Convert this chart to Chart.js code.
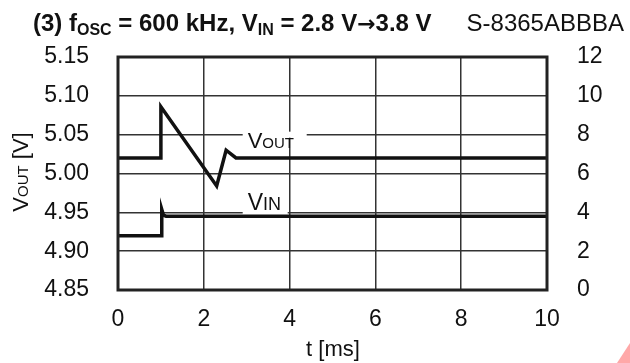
<!DOCTYPE html>
<html>
<head>
<meta charset="utf-8">
<script src="https://cdn.jsdelivr.net/npm/chart.js@4"></script>
<style>
  html, body { margin: 0; padding: 0; background: #fff; }
  #wrap { width: 630px; height: 363px; position: relative; }
</style>
</head>
<body>
<div id="wrap"><canvas id="chart" width="630" height="363"></canvas></div>
<script>
// values
const voutTimes = [0, 1.0, 1.0, 2.3, 2.52, 2.75, 10];
const voutValues = [5.02, 5.02, 5.086, 4.984, 5.03, 5.02, 5.02];
const vinTimes = [0, 1.02, 1.02, 1.06, 1.12, 10];
const vinValues = [2.8, 2.8, 4.15, 3.85, 3.8, 3.8];

const timeTicks = [0, 2, 4, 6, 8, 10];
const voutTicks = [4.85, 4.90, 4.95, 5.00, 5.05, 5.10, 5.15];
const vinTicks = [0, 2, 4, 6, 8, 10, 12];

const FONT = "'Liberation Sans', Arial, sans-serif";
const INK = '#111';

function toPoints(xs, ys) {
  return xs.map((t, i) => ({ x: t, y: ys[i] }));
}

// draws a run of text pieces with different sizes (for subscripts / small caps)
function drawRich(ctx, parts, x, y, align) {
  const fontOf = (p) => `${p.bold ? 'bold ' : ''}${p.size}px ${p.family || FONT}`;
  let total = 0;
  parts.forEach((p) => {
    ctx.font = fontOf(p);
    p.w = ctx.measureText(p.t).width;
    total += p.w;
  });
  let cx = align === 'center' ? x - total / 2 : align === 'right' ? x - total : x;
  parts.forEach((p) => {
    ctx.font = fontOf(p);
    ctx.fillText(p.t, cx, y + (p.dy || 0));
    cx += p.w;
  });
  return total;
}

const decor = {
  id: 'decor',
  beforeDatasetsDraw(chart) {
    const { ctx, scales } = chart;
    ctx.save();
    ctx.fillStyle = '#fff';
    // white gaps in the grid behind the trace labels
    const lx = scales.x.getPixelForValue(3) - 4;
    ctx.fillRect(lx, scales.y.getPixelForValue(5.05) - 3, 64, 6);
    ctx.fillRect(lx, scales.y1.getPixelForValue(4) - 3, 45, 5);
    ctx.restore();
  },
  afterDatasetsDraw(chart) {
    const { ctx, chartArea: a, scales } = chart;
    ctx.save();
    ctx.strokeStyle = '#222';
    ctx.lineWidth = 3;
    ctx.strokeRect(a.left, a.top, a.right - a.left, a.bottom - a.top);

    ctx.fillStyle = INK;
    ctx.textBaseline = 'alphabetic';
    const lx = scales.x.getPixelForValue(3) + 1;
    drawRich(ctx, [{ t: 'V', size: 22 }, { t: 'OUT', size: 15 }], lx, 148);
    drawRich(ctx, [{ t: 'V', size: 23 }, { t: 'IN', size: 18 }], lx, 210);
    ctx.restore();
  },
  afterDraw(chart) {
    const { ctx } = chart;
    ctx.save();
    ctx.fillStyle = INK;
    ctx.textBaseline = 'alphabetic';
    // title
    drawRich(ctx, [
      { t: '(3) f', size: 24, bold: true },
      { t: 'OSC', size: 16, bold: true, dy: 4 },
      { t: ' = 600 kHz, V', size: 24, bold: true },
      { t: 'IN', size: 16, bold: true, dy: 4 },
      { t: ' = 2.8 V', size: 24, bold: true },
      { t: '\u2192', size: 22, bold: true, family: "'DejaVu Sans', sans-serif" },
      { t: '3.8 V', size: 24, bold: true },
    ], 33, 31);
    drawRich(ctx, [{ t: 'S-8365ABBBA', size: 24 }], 624, 31, 'right');

    // axis titles
    drawRich(ctx, [{ t: 't [ms]', size: 22 }], 333, 356, 'center');
    ctx.translate(28, 172);
    ctx.rotate(-Math.PI / 2);
    drawRich(ctx, [{ t: 'V', size: 22 }, { t: 'OUT', size: 15 }, { t: ' [V]', size: 22 }], 0, 0, 'center');
    ctx.restore();

    // pink corner mark
    ctx.save();
    ctx.fillStyle = '#ffa8a8';
    ctx.beginPath();
    ctx.moveTo(617, 363);
    ctx.lineTo(630, 343);
    ctx.lineTo(630, 363);
    ctx.closePath();
    ctx.fill();
    ctx.restore();
  },
};

Chart.defaults.font.family = FONT;
Chart.defaults.font.size = 23;
Chart.defaults.color = INK;

const gridStyle = { color: '#333', lineWidth: 1.5, drawTicks: false };

new Chart(document.getElementById('chart'), {
  type: 'line',
  data: {
    datasets: [
      {
        label: 'VOUT',
        data: toPoints(voutTimes, voutValues),
        yAxisID: 'y',
        borderColor: INK,
        borderWidth: 3.5,
        pointRadius: 0,
        tension: 0,
      },
      {
        label: 'VIN',
        data: toPoints(vinTimes, vinValues),
        yAxisID: 'y1',
        borderColor: INK,
        borderWidth: 3.5,
        pointRadius: 0,
        tension: 0,
      },
    ],
  },
  options: {
    responsive: false,
    animation: false,
    layout: { padding: { top: 57, left: 0, right: 0, bottom: 0 } },
    plugins: { legend: { display: false }, tooltip: { enabled: false } },
    scales: {
      x: {
        type: 'linear',
        min: 0,
        max: 10,
        grid: gridStyle,
        border: { display: false },
        afterBuildTicks: (s) => { s.ticks = timeTicks.map((v) => ({ value: v })); },
        afterFit: (s) => { s.height = 73; },
        ticks: { padding: 16, maxRotation: 0 },
      },
      y: {
        position: 'left',
        min: 4.85,
        max: 5.15,
        grid: gridStyle,
        border: { display: false },
        afterBuildTicks: (s) => { s.ticks = voutTicks.map((v) => ({ value: v })); },
        afterFit: (s) => { s.width = 118; },
        ticks: { padding: 29, callback: (v) => v.toFixed(2) },
      },
      y1: {
        position: 'right',
        min: 0,
        max: 12,
        grid: { display: false, drawTicks: false },
        border: { display: false },
        afterBuildTicks: (s) => { s.ticks = vinTicks.map((v) => ({ value: v })); },
        afterFit: (s) => { s.width = 83; },
        ticks: { padding: 30 },
      },
    },
  },
  plugins: [decor],
});
</script>
</body>
</html>
